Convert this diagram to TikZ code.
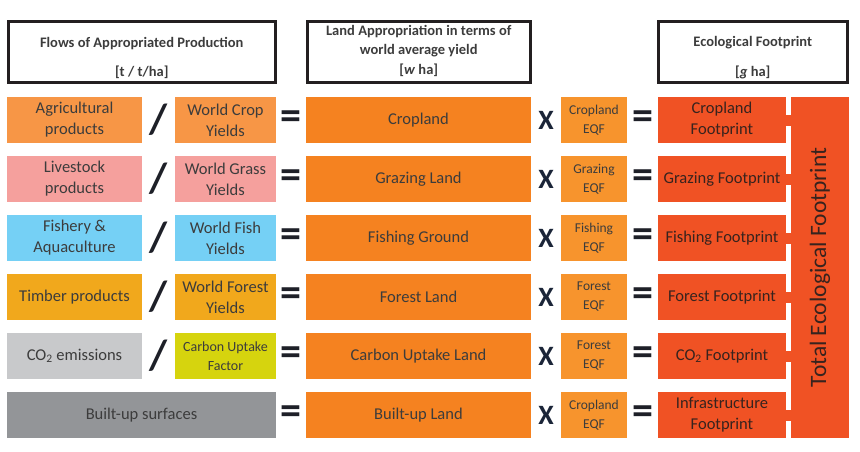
\documentclass[tikz,border=0pt]{standalone}
\usepackage{fontspec}
\setmainfont{Carlito}
\usepackage{tikz}
\usetikzlibrary{positioning,fit,calc}

\definecolor{agriC}{RGB}{247,150,70}
\definecolor{liveC}{RGB}{245,160,157}
\definecolor{fishC}{RGB}{117,208,245}
\definecolor{timbC}{RGB}{241,168,28}
\definecolor{coC}{RGB}{200,201,203}
\definecolor{uptC}{RGB}{214,212,14}
\definecolor{builtC}{RGB}{147,149,152}
\definecolor{landC}{RGB}{245,130,32}
\definecolor{eqfC}{RGB}{247,148,45}
\definecolor{fpC}{RGB}{240,82,36}
\definecolor{txtC}{RGB}{60,60,60}
\definecolor{fptxtC}{RGB}{55,35,30}
\definecolor{opC}{RGB}{30,32,40}
\definecolor{xC}{RGB}{27,37,56}
\definecolor{hdrC}{RGB}{35,31,32}

\tikzset{
  cell/.style    = {rectangle, draw=none, inner sep=0pt, outer sep=0pt,
                    minimum height=46pt, align=center, text=txtC,
                    font=\fontsize{16.5}{21}\selectfont},
  flow/.style    = {cell, minimum width=135pt},
  yld/.style     = {cell, minimum width=101pt},
  land/.style    = {cell, fill=landC, minimum width=225pt},
  eqf/.style     = {cell, fill=eqfC, minimum width=66pt,
                    font=\fontsize{13.5}{19}\selectfont},
  fp/.style      = {cell, fill=fpC, minimum width=128pt, text=fptxtC},
  hdr/.style     = {rectangle, draw=hdrC, line width=2.5pt,
                    inner sep=0pt, outer sep=0pt, minimum height=61pt},
  hdrtxt/.style  = {align=center, text=txtC, font=\fontsize{14.5}{19.5}\selectfont\bfseries},
  opdiv/.style   = {inner sep=0pt, text=opC, font=\fontsize{42}{42}\selectfont\bfseries},
  opeq/.style    = {inner sep=0pt, text=opC, font=\fontsize{42}{42}\selectfont\bfseries},
  optimes/.style = {inner sep=0pt, text=xC, font=\fontsize{28}{28}\selectfont\bfseries},
  tab/.style     = {line width=11pt, fpC},
}

\begin{document}
\begin{tikzpicture}
  \useasboundingbox (0,0) rectangle (860pt,-452pt);

  % rows: flow / yield = land x EQF = footprint
  \node[flow, fill=agriC, anchor=north west] (agri) at (7pt,-97pt) {Agricultural\\products};
  \node[yld, fill=agriC, right=33pt of agri] (cropY) {World Crop\\Yields};
  \node[land, right=30pt of cropY] (crop) {Cropland};
  \node[eqf, right=30pt of crop] (cropEQF) {Cropland\\EQF};
  \node[fp, right=31pt of cropEQF] (cropFP) {Cropland\\Footprint};

  \node[flow, fill=liveC, below=13pt of agri] (live) {Livestock\\products};
  \node[yld, fill=liveC, right=33pt of live] (grazY) {World Grass\\Yields};
  \node[land, right=30pt of grazY] (graz) {Grazing Land};
  \node[eqf, right=30pt of graz] (grazEQF) {Grazing\\EQF};
  \node[fp, right=31pt of grazEQF] (grazFP) {Grazing Footprint};

  \node[flow, fill=fishC, below=13pt of live] (fish) {Fishery \&\\Aquaculture};
  \node[yld, fill=fishC, right=33pt of fish] (fishY) {World Fish\\Yields};
  \node[land, right=30pt of fishY] (fishG) {Fishing Ground};
  \node[eqf, right=30pt of fishG] (fishEQF) {Fishing\\EQF};
  \node[fp, right=31pt of fishEQF] (fishFP) {Fishing Footprint};

  \node[flow, fill=timbC, below=13pt of fish] (timb) {Timber products};
  \node[yld, fill=timbC, right=33pt of timb] (forY) {World Forest\\Yields};
  \node[land, right=30pt of forY] (forL) {Forest Land};
  \node[eqf, right=30pt of forL] (forEQF) {Forest\\EQF};
  \node[fp, right=31pt of forEQF] (forFP) {Forest Footprint};

  \node[flow, fill=coC, below=13pt of timb] (coem) {CO\textsubscript{2} emissions};
  \node[yld, fill=uptC, right=33pt of coem, font=\fontsize{14}{19}\selectfont] (uptF) {Carbon Uptake\\Factor};
  \node[land, right=30pt of uptF] (uptL) {Carbon Uptake Land};
  \node[eqf, right=30pt of uptL] (uptEQF) {Forest\\EQF};
  \node[fp, right=31pt of uptEQF] (coFP) {CO\textsubscript{2} Footprint};

  \node[flow, fill=builtC, minimum width=269pt, below=13pt of coem.south west, anchor=north west] (built) {Built-up surfaces};
  \node[land, right=30pt of built] (builtL) {Built-up Land};
  \node[eqf, right=30pt of builtL] (builtEQF) {Cropland\\EQF};
  \node[fp, right=31pt of builtEQF] (infraFP) {Infrastructure\\Footprint};

  % operators
  \node[opdiv] (d1) at ($(agri.east)!0.5!(cropY.west)$) {/};
  \node[opdiv] (d2) at ($(live.east)!0.5!(grazY.west)$) {/};
  \node[opdiv] (d3) at ($(fish.east)!0.5!(fishY.west)$) {/};
  \node[opdiv] (d4) at ($(timb.east)!0.5!(forY.west)$) {/};
  \node[opdiv] (d5) at ($(coem.east)!0.5!(uptF.west)$) {/};

  \node[opeq] (e1) at ($(cropY.east)!0.5!(crop.west)$) {=};
  \node[opeq] (e2) at ($(grazY.east)!0.5!(graz.west)$) {=};
  \node[opeq] (e3) at ($(fishY.east)!0.5!(fishG.west)$) {=};
  \node[opeq] (e4) at ($(forY.east)!0.5!(forL.west)$) {=};
  \node[opeq] (e5) at ($(uptF.east)!0.5!(uptL.west)$) {=};
  \node[opeq] (e6) at ($(built.east)!0.5!(builtL.west)$) {=};

  \node[optimes] (x1) at ($(crop.east)!0.5!(cropEQF.west)$) {X};
  \node[optimes] (x2) at ($(graz.east)!0.5!(grazEQF.west)$) {X};
  \node[optimes] (x3) at ($(fishG.east)!0.5!(fishEQF.west)$) {X};
  \node[optimes] (x4) at ($(forL.east)!0.5!(forEQF.west)$) {X};
  \node[optimes] (x5) at ($(uptL.east)!0.5!(uptEQF.west)$) {X};
  \node[optimes] (x6) at ($(builtL.east)!0.5!(builtEQF.west)$) {X};

  \node[opeq] (f1) at ($(cropEQF.east)!0.5!(cropFP.west)$) {=};
  \node[opeq] (f2) at ($(grazEQF.east)!0.5!(grazFP.west)$) {=};
  \node[opeq] (f3) at ($(fishEQF.east)!0.5!(fishFP.west)$) {=};
  \node[opeq] (f4) at ($(forEQF.east)!0.5!(forFP.west)$) {=};
  \node[opeq] (f5) at ($(uptEQF.east)!0.5!(coFP.west)$) {=};
  \node[opeq] (f6) at ($(builtEQF.east)!0.5!(infraFP.west)$) {=};

  % total bar
  \coordinate (totNW) at ($(cropFP.north east)+(5pt,0)$);
  \coordinate (totSE) at ($(infraFP.south east)+(63pt,0)$);
  \node[fit=(totNW)(totSE), inner sep=0pt, fill=fpC,
        label={[rotate=90, text=fptxtC, font=\fontsize{23.5}{28}\selectfont]center:Total Ecological Footprint}] (total) {};
  \draw[tab] (cropFP) -- (cropFP -| total.west);
  \draw[tab] (grazFP) -- (grazFP -| total.west);
  \draw[tab] (fishFP) -- (fishFP -| total.west);
  \draw[tab] (forFP) -- (forFP -| total.west);
  \draw[tab] (coFP) -- (coFP -| total.west);
  \draw[tab] (infraFP) -- (infraFP -| total.west);

  % headers
  \node[hdr, minimum width=267pt, anchor=south west] (hdrFlow) at ($(agri.north west)+(1.25pt,14.25pt)$) {};
  \node[hdr, minimum width=223pt, anchor=south west] (hdrLand) at ($(crop.north west)+(1.25pt,14.25pt)$) {};
  \node[hdr, minimum width=189pt, anchor=south west] (hdrEF) at ($(cropFP.north west)+(0.25pt,14.25pt)$) {};
  \node[hdrtxt, yshift=-5.5pt] (hdrFlowT) at (hdrFlow) {Flows of Appropriated Production\\[10pt][t / t/ha]};
  \node[hdrtxt, yshift=1.5pt] (hdrLandT) at (hdrLand) {Land Appropriation in terms of\\world average yield\\{}[\textit{w} ha]};
  \node[hdrtxt, yshift=-5.5pt] (hdrEFT) at (hdrEF) {Ecological Footprint\\[10pt][\textit{g} ha]};

\end{tikzpicture}
\end{document}
